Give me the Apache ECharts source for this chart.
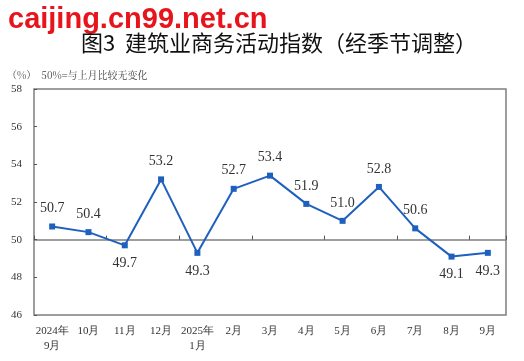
<!DOCTYPE html>
<html><head><meta charset="utf-8">
<script src="https://cdn.jsdelivr.net/npm/echarts@6/dist/echarts.min.js"></script>
<style>html,body{margin:0;padding:0;background:#fff}#c{width:524px;height:361px}</style>
</head><body><div id="c"></div>
<script>
const categories = ['2024年\n9月','10月','11月','12月','2025年\n1月','2月','3月','4月','5月','6月','7月','8月','9月'];
const values = [50.7,50.4,49.7,53.2,49.3,52.7,53.4,51.9,51.0,52.8,50.6,49.1,49.3];
const labelBelow = [false,false,true,false,true,false,false,false,false,false,false,true,true];
const yTicks = [46,48,50,52,54,56,58];

const serif = '"Liberation Serif","DejaVu Serif",serif';
const chart = echarts.init(document.getElementById('c'), null, {renderer:'canvas'});
const gridL = 34, gridR = 18, gridT = 89, gridB = 46;
chart.setOption({
  animation:false,
  backgroundColor:'#fff',
  title:[
    {text:'caijing.cn99.net.cn', left:3, top:0, textStyle:{color:'#e8141c', fontSize:29, fontWeight:'bold', fontFamily:'"Liberation Sans",Arial,sans-serif'}},
    {text:'图3  建筑业商务活动指数（经季节调整）', left:274, textAlign:'center', top:27, textStyle:{color:'#111', fontSize:22, fontWeight:'normal', fontFamily:'"Noto Sans CJK SC",sans-serif'}},
    {text:'（%）  50%=与上月比较无变化', left:2, top:65, textStyle:{color:'#444', fontSize:10, fontWeight:'normal', fontFamily:'"Noto Serif CJK SC","Noto Sans CJK SC",serif'}}
  ],
  grid:[
    {left:gridL, right:gridR, top:gridT, bottom:gridB, show:true, borderColor:'#7f7f7f', borderWidth:1.5},
    {left:gridL, right:gridR, top:gridT, height:(361-gridT-gridB)*(8/12)}
  ],
  xAxis:[
    {type:'category', data:categories, gridIndex:0, boundaryGap:true,
     axisLine:{show:false}, axisTick:{show:false},
     axisLabel:{color:'#333', fontSize:11, fontFamily:serif, margin:9, lineHeight:15, interval:0}},
    {type:'category', data:categories, gridIndex:1, boundaryGap:true, position:'bottom',
     axisLine:{show:true, lineStyle:{color:'#7f7f7f', width:1.5}},
     axisTick:{show:true, inside:true, length:4, lineStyle:{color:'#555'}},
     axisLabel:{show:false}}
  ],
  yAxis:[
    {type:'value', min:46, max:58, interval:2, gridIndex:0,
     axisLine:{show:false}, axisTick:{show:true, inside:true, length:3, lineStyle:{color:'#555'}},
     splitLine:{show:false},
     axisLabel:{color:'#333', fontSize:11, fontFamily:serif, margin:12}},
    {type:'value', min:50, max:58, gridIndex:1, show:false}
  ],
  series:[{
    type:'line', xAxisIndex:0, yAxisIndex:0, z:5,
    data: values.map((v,i)=>({value:v, label:{position: labelBelow[i]?'bottom':'top'}})),
    symbol:'rect', symbolSize:6, showAllSymbol:true,
    lineStyle:{color:'#1f60be', width:2},
    itemStyle:{color:'#1f60be'},
    label:{show:true, distance:8, color:'#333', fontSize:14, fontFamily:serif,
      formatter:p=>p.value.toFixed(1)}
  }]
});
</script></body></html>
